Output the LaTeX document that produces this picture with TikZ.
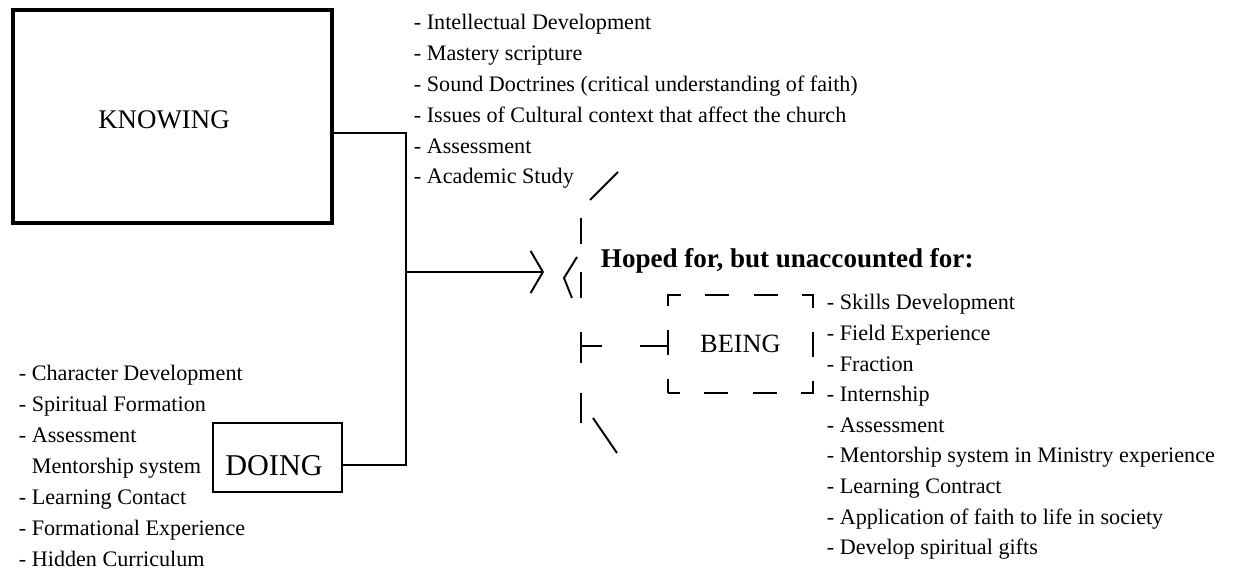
\documentclass[tikz,border=0pt]{standalone}
\usepackage{fontspec}
\setmainfont{Liberation Serif}
\usetikzlibrary{arrows.meta}

\begin{document}
\begin{tikzpicture}
  [x=0.02cm,y=-0.02cm,line width=1.1pt,
   box/.style={draw,rectangle},
   title/.style={inner sep=0pt,font=\fontsize{16}{18}\selectfont},
   item/.style={anchor=base west,inner sep=0pt,font=\fontsize{12.6}{15}\selectfont}]
  \useasboundingbox (0,0) rectangle (1235,580);

  \node[box,line width=1.8pt,minimum width=6.38cm,minimum height=4.26cm] (know) at (172.5,116.5) {};
  \node[title,font=\fontsize{15.3}{18}\selectfont] (knowlbl) at (164,120) {KNOWING};
  \node[box,minimum width=2.58cm,minimum height=1.38cm] (doing) at (277.5,457.5) {};
  \node[title,font=\fontsize{17.2}{19}\selectfont] (doinglbl) at (274,466) {DOING};
  \node[box,dash pattern=on 13.77pt off 13.77pt,dash phase=6.9pt,
        minimum width=2.9cm,minimum height=1.96cm,font=\fontsize{15}{18}\selectfont] (being) at (740.5,344) {BEING};
  \node[anchor=base west,inner sep=0pt,font=\bfseries\fontsize{15.4}{17}\selectfont] (hoped) at (600,268) {Hoped for, but unaccounted for:};

  \foreach \txt [count=\i] in {Intellectual Development,Mastery scripture,
      Sound Doctrines (critical understanding of faith),
      Issues of Cultural context that affect the church,Assessment,Academic Study}
    \node[item] (k\i) at (413,{30+30.8*(\i-1)}) {- \txt};

  \foreach \txt [count=\i] in {- Character Development,- Spiritual Formation,- Assessment,
      \hphantom{- }Mentorship system,- Learning Contact,- Formational Experience,- Hidden Curriculum}
    \node[item] (d\i) at (18,{381+31*(\i-1)}) {\txt};

  \foreach \txt [count=\i] in {Skills Development,Field Experience,Fraction,Internship,Assessment,
      Mentorship system in Ministry experience,Learning Contract,
      Application of faith to life in society,Develop spiritual gifts}
    \node[item] (b\i) at (826,{310+30.6*(\i-1)}) {- \txt};

  \coordinate (jtop) at (406,133);
  \coordinate (jmid) at (406,272);
  \coordinate (jbot) at (406,465);
  \coordinate (tip) at (544,272);
  \coordinate (brk) at (581,346);

  \draw (know.east |- jtop) -- (jtop) -- (jbot) -- (doing.east |- jbot);
  \draw[-{Straight Barb[length=7pt,width=24pt]}] (jmid) -- (tip);
  \draw (577,257) -- (564,278) -- (572,298);

  \foreach \a/\b in {218/244,272/298,332/363,393/423}
    \draw (581,\a) -- (581,\b);
  \draw (590,200) -- (618,172);
  \draw (593,418) -- (617,453);
  \draw[dash pattern=on 15.4pt off 21.6pt] (being.west |- brk) -- (brk);

\end{tikzpicture}
\end{document}
